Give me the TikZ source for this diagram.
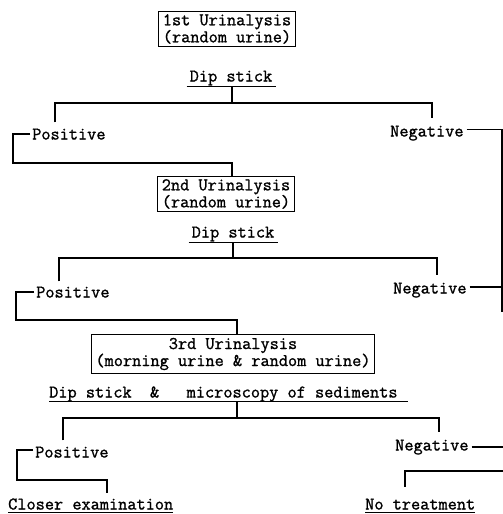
\documentclass[tikz,border=0pt]{standalone}
\usepackage{fontspec}
\setmonofont[FakeBold=1.2]{Latin Modern Mono}
\usetikzlibrary{calc}
\begin{document}
\begin{tikzpicture}[x=1pt,y=-1pt]
\tikzset{
 ln/.style={line width=1.3pt},
 ul/.style={line width=1pt},
 fnt/.style={font=\fontsize{17.8}{17}\selectfont\ttfamily},
 lbl/.style={fnt, inner sep=0pt, text height=11pt, text depth=0pt},
 box/.style={fnt, draw, line width=1.1pt, align=center, inner xsep=4pt, inner ysep=3pt},
}
\fill[white] (0,0) rectangle (503,514);
\useasboundingbox (0,0) rectangle (503,514);

% ---- level 1
\node[box] (u1) at (227,29) {1st Urinalysis\\(random urine)};
\node[lbl] (d1) at (231,76) {Dip stick};
\coordinate (h1l) at (55,103);
\coordinate (h1r) at (432,103);
\node[lbl,anchor=west] (p1) at (32,134) {Positive};
\node[lbl,anchor=west] (n1) at (390,131) {Negative};
\coordinate (c1) at (232,163);

% ---- level 2
\node[box] (u2) at (226,194) {2nd Urinalysis\\(random urine)};
\node[lbl] (d2) at (233,232) {Dip stick};
\coordinate (h2l) at (59,258);
\coordinate (h2r) at (437,258);
\node[lbl,anchor=west] (p2) at (36,292) {Positive};
\node[lbl,anchor=west] (n2) at (393,288) {Negative};
\coordinate (c2) at (237,320);
\coordinate (rv) at (502,312);

% ---- level 3
\node[box] (u3) at (233,354) {3rd Urinalysis\\(morning urine \& random urine)};
\node[lbl,anchor=west] (d3) at (49,392) {Dip stick\ \ \&\ \ \ microscopy of sediments};
\coordinate (h3l) at (63,418);
\coordinate (h3r) at (439,418);
\node[lbl,anchor=west] (p3) at (35,452) {Positive};
\node[lbl,anchor=west] (n3) at (395,445) {Negative};
\coordinate (c3) at (107,480);
\node[lbl,anchor=west] (ce) at (8,504) {Closer examination};
\node[lbl,anchor=west] (nt) at (365,504) {No treatment};
\coordinate (c4) at (405,471);
\coordinate (rx) at (507,0);

% ---- stem start points (on the underlines)
\coordinate (s1) at ($(d1.south)+(1,5)$);
\coordinate (s2) at ($(d2.south)+(0,5)$);
\coordinate (s3) at ($(d3.south west)+(188,3.5)$);

% ---- underlines
\draw[ul] ([xshift=-3pt,yshift=-5pt]d1.south west) -- ([xshift=4pt,yshift=-5pt]d1.south east);
\draw[ul] ([xshift=-3pt,yshift=-5pt]d2.south west) -- ([xshift=4pt,yshift=-5pt]d2.south east);
\draw[ul] ([xshift=0pt,yshift=-3.5pt]d3.south west) -- ([xshift=10pt,yshift=-3.5pt]d3.south east);
\draw[ul] ([yshift=-3pt]ce.south west) -- ([yshift=-3pt]ce.south east);
\draw[ul] ([yshift=-3pt]nt.south west) -- ([yshift=-3pt]nt.south east);

% ---- level 1 connectors
\draw[ln] (s1) -- (s1 |- h1l);
\draw[ln] ([yshift=6pt]h1l |- p1.north) -- (h1l) -- (h1r) -- ([yshift=7pt]h1r |- n1.north);
\draw[ln] ([xshift=-2pt]p1.west) -- ++(-17,0) |- (c1) -- (c1 |- u2.north);
\draw[ln] ([xshift=3pt,yshift=1.5pt]n1.east) -- ([yshift=1.5pt]n1.east -| rv) -- (rv);

% ---- level 2 connectors
\draw[ln] (s2) -- (s2 |- h2l);
\draw[ln] ([yshift=5pt]h2l |- p2.north) -- (h2l) -- (h2r) -- ([yshift=7pt]h2r |- n2.north);
\draw[ln] ([xshift=-2pt]p2.west) -- ++(-18,0) |- (c2) -- (c2 |- u3.north);
\draw[ln] ([xshift=3pt,yshift=1pt]n2.east) -- ([yshift=1pt]n2.east -| rv);

% ---- level 3 connectors
\draw[ln] (s3) -- (s3 |- h3l);
\draw[ln] ([yshift=6pt]h3l |- p3.north) -- (h3l) -- (h3r) -- ([yshift=7pt]h3r |- n3.north);
\draw[ln] ([xshift=-2pt,yshift=2pt]p3.west) -- ++(-16,0) |- (c3) -- ([yshift=5pt]c3 |- ce.north);
\draw[ln] ([xshift=3pt,yshift=-2pt]n3.east) -- ([yshift=-2pt]n3.east -| rx) |- (c4) -- ([yshift=11pt]c4 |- nt.north);
\end{tikzpicture}
\end{document}
